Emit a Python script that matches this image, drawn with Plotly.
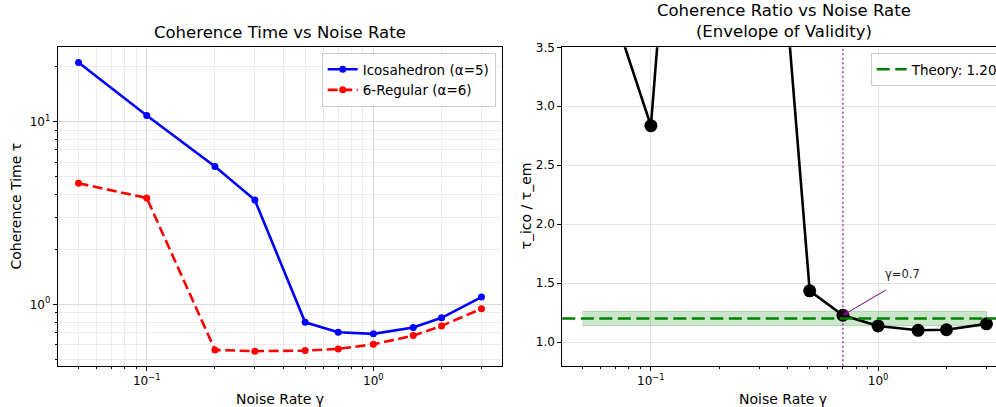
import numpy as np
import plotly.graph_objects as go

# ---- data ----
gamma = [0.05, 0.1, 0.2, 0.3, 0.5, 0.7, 1.0, 1.5, 2.0, 3.0]
tau_ico = [21.1, 10.8, 5.68, 3.72, 0.797, 0.703, 0.689, 0.747, 0.844, 1.096]
tau_reg = [4.60, 3.82, 0.563, 0.554, 0.558, 0.570, 0.604, 0.674, 0.762, 0.946]
ratio = [4.59, 2.835, 10.1, 6.7, 1.435, 1.228, 1.137, 1.10, 1.105, 1.155]
theory = 1.20
band_frac = 0.05
gamma_mark = 0.7
name_ico = "Icosahedron (α=5)"
name_reg = "6-Regular (α=6)"
theory_name = "Theory: 1.20"

W, H = 996, 407
FONT = "DejaVu Sans"

def px_x(p):
    return p / W

def px_y(p):
    return 1 - p / H

fig = go.Figure()

# left plot
fig.add_trace(go.Scatter(x=gamma, y=tau_ico, mode="lines+markers", name=name_ico,
                         line=dict(color="#0000ff", width=2.6),
                         marker=dict(size=7, color="#0000ff"),
                         xaxis="x", yaxis="y", legend="legend"))
fig.add_trace(go.Scatter(x=gamma, y=tau_reg, mode="lines+markers", name=name_reg,
                         line=dict(color="#ff0000", width=2.6, dash="10px,4.5px"),
                         marker=dict(size=7, color="#ff0000"),
                         xaxis="x", yaxis="y", legend="legend"))

# right plot: band
band_lo = [theory * (1 - band_frac)] * len(gamma)
band_hi = [theory * (1 + band_frac)] * len(gamma)
fig.add_trace(go.Scatter(x=gamma + gamma[::-1], y=band_hi + band_lo[::-1],
                         fill="toself", fillcolor="rgba(0,128,0,0.2)",
                         line=dict(color="rgba(0,128,0,0.25)", width=1),
                         mode="lines", showlegend=False, hoverinfo="skip",
                         xaxis="x2", yaxis="y2"))
fig.add_trace(go.Scatter(x=gamma, y=ratio, mode="lines+markers", showlegend=False,
                         line=dict(color="black", width=2.6),
                         marker=dict(size=13, color="black"),
                         xaxis="x2", yaxis="y2"))

# theory line (with legend entry)
fig.add_shape(type="line", xref="x2 domain", yref="y2", x0=0, x1=1, y0=theory, y1=theory,
              line=dict(color="#008000", width=2.6, dash="13px,5.5px"),
              showlegend=True, legend="legend2", name=theory_name)
# vertical dotted line
fig.add_shape(type="line", xref="x2", yref="y2 domain", x0=gamma_mark, x1=gamma_mark, y0=0, y1=1,
              line=dict(color="rgba(128,0,128,0.75)", width=1.5, dash="2px,2.5px"))

mark_val = ratio[gamma.index(gamma_mark)]
# arrow
fig.add_annotation(xref="x2", yref="y2", axref="x2", ayref="y2",
                   x=np.log10(gamma_mark), y=mark_val,
                   ax=np.log10(1.1), ay=1.45, text="", showarrow=True,
                   arrowhead=2, arrowsize=1.2, arrowwidth=1, arrowcolor="purple")
fig.add_annotation(xref="x2", yref="y2", x=np.log10(1.05), y=1.50,
                   text="γ=0.7", showarrow=False, xanchor="left", yanchor="bottom",
                   font=dict(family=FONT, size=11.5, color="#222"))

# titles
fig.add_annotation(xref="paper", yref="paper", x=px_x(279.6), y=px_y(44),
                   text="Coherence Time vs Noise Rate", showarrow=False,
                   xanchor="center", yanchor="bottom",
                   font=dict(family=FONT, size=16.5, color="black"))
fig.add_annotation(xref="paper", yref="paper", x=px_x(784), y=px_y(43),
                   text="Coherence Ratio vs Noise Rate<br>(Envelope of Validity)", showarrow=False,
                   xanchor="center", yanchor="bottom",
                   font=dict(family=FONT, size=16.5, color="black"))
# axis labels
for xc, txt in [(279.6, "Noise Rate γ"), (783, "Noise Rate γ")]:
    fig.add_annotation(xref="paper", yref="paper", x=px_x(xc), y=px_y(399),
                       text=txt, showarrow=False, xanchor="center", yanchor="middle",
                       font=dict(family=FONT, size=14, color="black"))
for xc, txt in [(15, "Coherence Time τ"), (525, "τ_ico / τ_em")]:
    fig.add_annotation(xref="paper", yref="paper", x=px_x(xc), y=px_y(206.5),
                       text=txt, showarrow=False, xanchor="center", yanchor="middle",
                       textangle=-90, font=dict(family=FONT, size=14, color="black"))

minor_x = [v * 10.0 ** e for e in (-2, -1, 0) for v in range(2, 10)]
minor_y = [v * 10.0 ** e for e in (-1, 0, 1) for v in range(2, 10)]
tick_font = dict(family=FONT, size=12, color="black")
axis_common = dict(showline=True, linecolor="black", linewidth=1.1, mirror=True,
                   ticks="outside", ticklen=4, tickwidth=1.1, tickcolor="black",
                   tickfont=tick_font, zeroline=False)

fig.update_layout(
    width=W, height=H, autosize=False,
    margin=dict(l=0, r=0, t=0, b=0, autoexpand=False),
    paper_bgcolor="white", plot_bgcolor="white",
    font=dict(family=FONT),
    xaxis=dict(domain=[px_x(57.7), px_x(501.6)], type="log", range=[-1.393, 0.566],
               tickvals=[0.1, 1], ticktext=["10<sup>−1</sup>", "10<sup>0</sup>"],
               showgrid=True, gridcolor="#d9d9d9", gridwidth=1,
               minor=dict(tickvals=minor_x, ticks="outside", ticklen=2, tickcolor="black",
                          showgrid=True, gridcolor="#ececec", gridwidth=1),
               anchor="y", **axis_common),
    yaxis=dict(domain=[px_y(365.7), px_y(47.3)], type="log", range=[-0.336, 1.407],
               tickvals=[1, 10], ticktext=["10<sup>0</sup>", "10<sup>1</sup>"],
               showgrid=True, gridcolor="#d9d9d9", gridwidth=1,
               minor=dict(tickvals=minor_y, ticks="outside", ticklen=2, tickcolor="black",
                          showgrid=True, gridcolor="#ececec", gridwidth=1),
               anchor="x", **axis_common),
    xaxis2=dict(domain=[px_x(562.3), 1.0], type="log", range=[-1.39, 0.519],
                tickvals=[0.1, 1], ticktext=["10<sup>−1</sup>", "10<sup>0</sup>"],
                showgrid=True, gridcolor="#e3e3e3", gridwidth=1,
                minor=dict(tickvals=minor_x, ticks="outside", ticklen=2, tickcolor="black",
                           showgrid=False),
                anchor="y2", **axis_common),
    yaxis2=dict(domain=[px_y(365.7), px_y(47.3)], range=[0.8, 3.5],
                tickvals=[1.0, 1.5, 2.0, 2.5, 3.0, 3.5], tickformat=".1f",
                showgrid=True, gridcolor="#e3e3e3", gridwidth=1,
                anchor="x2", **axis_common),
    legend=dict(x=px_x(495.7), y=px_y(53), xanchor="right", yanchor="top",
                bgcolor="rgba(255,255,255,0.85)", bordercolor="#cccccc", borderwidth=1,
                font=dict(family=FONT, size=13.5, color="black"),
                itemwidth=30, tracegroupgap=0),
    legend2=dict(x=px_x(870.7), y=px_y(53), xanchor="left", yanchor="top",
                 bgcolor="rgba(255,255,255,0.85)", bordercolor="#cccccc", borderwidth=1,
                 font=dict(family=FONT, size=13.5, color="black"),
                 itemwidth=30),
)

fig.write_html("out.html")
